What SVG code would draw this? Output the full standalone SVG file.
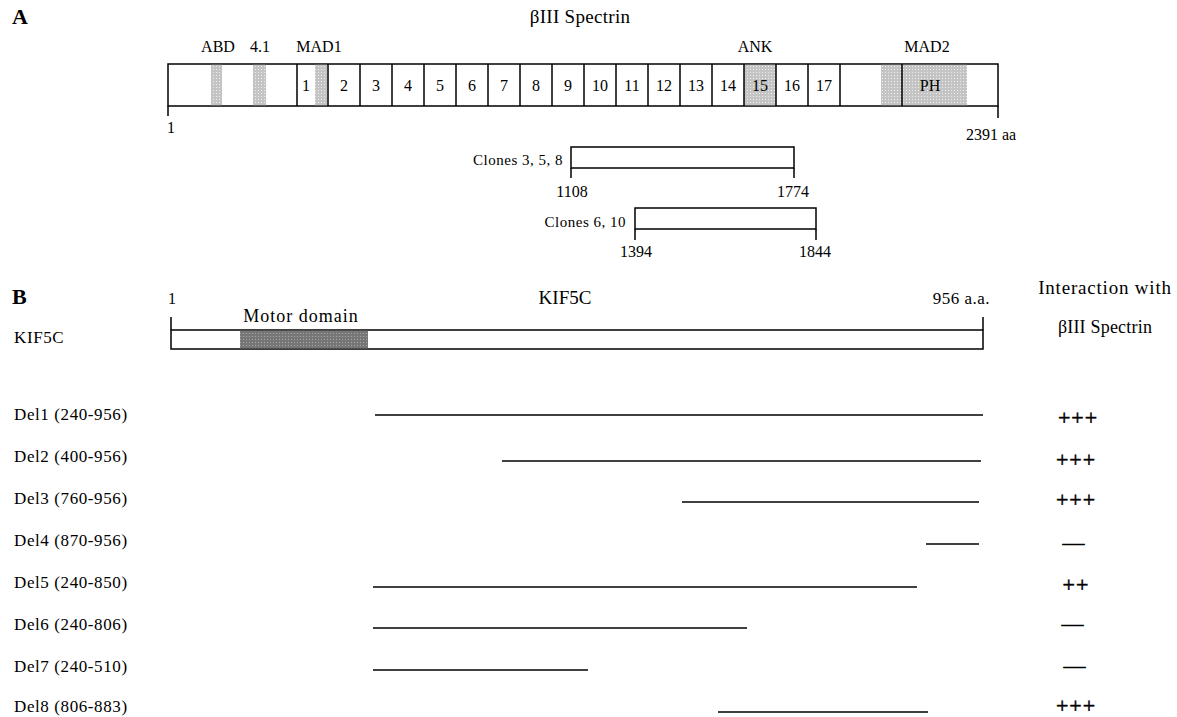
<svg xmlns="http://www.w3.org/2000/svg" width="1177" height="717" viewBox="0 0 1177 717">
<style>
text{font-family:"Liberation Serif","Times New Roman",serif;fill:#000}
.hd{font-weight:bold;font-size:22px}
.t15{font-size:15px}
.t16{font-size:16px}
.lab{font-size:17px;letter-spacing:0.6px}
.cl{font-size:15px;letter-spacing:0.5px}
.m{text-anchor:middle}
.e{text-anchor:end}
.box{fill:#fff;stroke:#000;stroke-width:1.5}
.ln{stroke:#000;stroke-width:1.5;fill:none}
.del{stroke:#000;stroke-width:1.6}
.sym{font-size:22px;text-anchor:middle;letter-spacing:1px;stroke:#000;stroke-width:0.5}
</style>
<defs>
<pattern id="lt" width="3" height="3" patternUnits="userSpaceOnUse"><rect width="3" height="3" fill="#c4c4c4"/><rect width="1" height="1" fill="#eeeeee"/></pattern>
<pattern id="dk" width="3" height="3" patternUnits="userSpaceOnUse"><rect width="3" height="3" fill="#767676"/><rect width="1" height="1" fill="#aaaaaa"/></pattern>
</defs>
<rect width="1177" height="717" fill="#fff"/>

<g id="panelA">
<text class="hd" x="12" y="24">A</text>
<text class="m" style="font-size:19px;letter-spacing:0.3px" x="580" y="23">βIII Spectrin</text>
</g>

<g id="spectrin">
<rect class="box" x="168" y="64" width="830" height="42"/>
<rect x="211" y="64.8" width="11" height="40.4" fill="url(#lt)"/>
<rect x="253" y="64.8" width="13" height="40.4" fill="url(#lt)"/>
<rect x="315" y="64.8" width="12" height="40.4" fill="url(#lt)"/>
<rect x="744" y="64.8" width="32" height="40.4" fill="url(#lt)"/>
<rect x="881" y="64.8" width="86" height="40.4" fill="url(#lt)"/>
<path class="ln" d="M297 64V106M328 64V106M360 64V106M392 64V106M424 64V106M456 64V106M488 64V106M520 64V106M552 64V106M584 64V106M616 64V106M648 64V106M680 64V106M712 64V106M744 64V106M776 64V106M808 64V106M840 64V106M902 64V106"/>
<path class="ln" d="M168 106V116M998 106V118"/>
<g class="t16 m">
<text x="306" y="91">1</text>
<text x="344" y="91">2</text>
<text x="376" y="91">3</text>
<text x="408" y="91">4</text>
<text x="440" y="91">5</text>
<text x="472" y="91">6</text>
<text x="504" y="91">7</text>
<text x="536" y="91">8</text>
<text x="568" y="91">9</text>
<text x="600" y="91">10</text>
<text x="632" y="91">11</text>
<text x="664" y="91">12</text>
<text x="696" y="91">13</text>
<text x="728" y="91">14</text>
<text x="760" y="91">15</text>
<text x="792" y="91">16</text>
<text x="824" y="91">17</text>
<text x="930" y="91">PH</text>
<text x="218" y="52">ABD</text>
<text x="260" y="52">4.1</text>
<text x="319" y="52">MAD1</text>
<text x="755" y="52">ANK</text>
<text x="927" y="52">MAD2</text>
</g>
<text class="t16" x="167" y="133">1</text>
<text class="t16" x="966" y="140">2391 aa</text>
</g>

<g id="clone358">
<rect class="box" x="571" y="147" width="223" height="21"/>
<path class="ln" d="M571 168V178M794 168V178"/>
<text class="cl e" x="563" y="165">Clones 3, 5, 8</text>
<text class="t16 m" x="572" y="197">1108</text>
<text class="t16 m" x="793" y="197">1774</text>
</g>

<g id="clone610">
<rect class="box" x="635" y="208" width="181" height="21"/>
<path class="ln" d="M635 229V240M816 229V240"/>
<text class="cl e" x="626" y="227">Clones 6, 10</text>
<text class="t16 m" x="636" y="257">1394</text>
<text class="t16 m" x="815" y="257">1844</text>
</g>

<g id="panelB">
<text class="hd" x="12" y="304">B</text>
<text class="m" style="font-size:19px;letter-spacing:0.8px" x="1105" y="294">Interaction with</text>
<text class="m" style="font-size:18px;letter-spacing:0.2px" x="1105" y="333">βIII Spectrin</text>
<text class="m" style="font-size:19px" x="565" y="304">KIF5C</text>
</g>

<g id="kif5c">
<text class="lab" x="14" y="343">KIF5C</text>
<rect class="box" x="171" y="330" width="812" height="19"/>
<rect x="240" y="330.8" width="128" height="17.4" fill="url(#dk)"/>
<path class="ln" d="M171 330V317M983 330V317"/>
<text class="t16" x="168" y="304">1</text>
<text class="e" style="font-size:17px;letter-spacing:0.5px" x="990" y="304">956 a.a.</text>
<text class="m" style="font-size:18px;letter-spacing:1px" x="301" y="322">Motor domain</text>
</g>

<g id="del1"><text class="lab" x="14" y="420">Del1 (240-956)</text><line class="del" x1="375" y1="415" x2="983" y2="415"/><text class="sym" x="1078" y="425">+++</text></g>
<g id="del2"><text class="lab" x="14" y="462">Del2 (400-956)</text><line class="del" x1="502" y1="461" x2="981" y2="461"/><text class="sym" x="1076" y="467">+++</text></g>
<g id="del3"><text class="lab" x="14" y="504">Del3 (760-956)</text><line class="del" x1="682" y1="502" x2="979" y2="502"/><text class="sym" x="1076" y="507">+++</text></g>
<g id="del4"><text class="lab" x="14" y="546">Del4 (870-956)</text><line class="del" x1="926" y1="544" x2="979" y2="544"/><text class="sym" x="1074" y="550">—</text></g>
<g id="del5"><text class="lab" x="14" y="588">Del5 (240-850)</text><line class="del" x1="373" y1="587" x2="917" y2="587"/><text class="sym" x="1076" y="592">++</text></g>
<g id="del6"><text class="lab" x="14" y="630">Del6 (240-806)</text><line class="del" x1="373" y1="628" x2="747" y2="628"/><text class="sym" x="1073" y="631">—</text></g>
<g id="del7"><text class="lab" x="14" y="672">Del7 (240-510)</text><line class="del" x1="373" y1="670" x2="588" y2="670"/><text class="sym" x="1075" y="673">—</text></g>
<g id="del8"><text class="lab" x="14" y="712">Del8 (806-883)</text><line class="del" x1="718" y1="712" x2="928" y2="712"/><text class="sym" x="1076" y="713">+++</text></g>
</svg>
